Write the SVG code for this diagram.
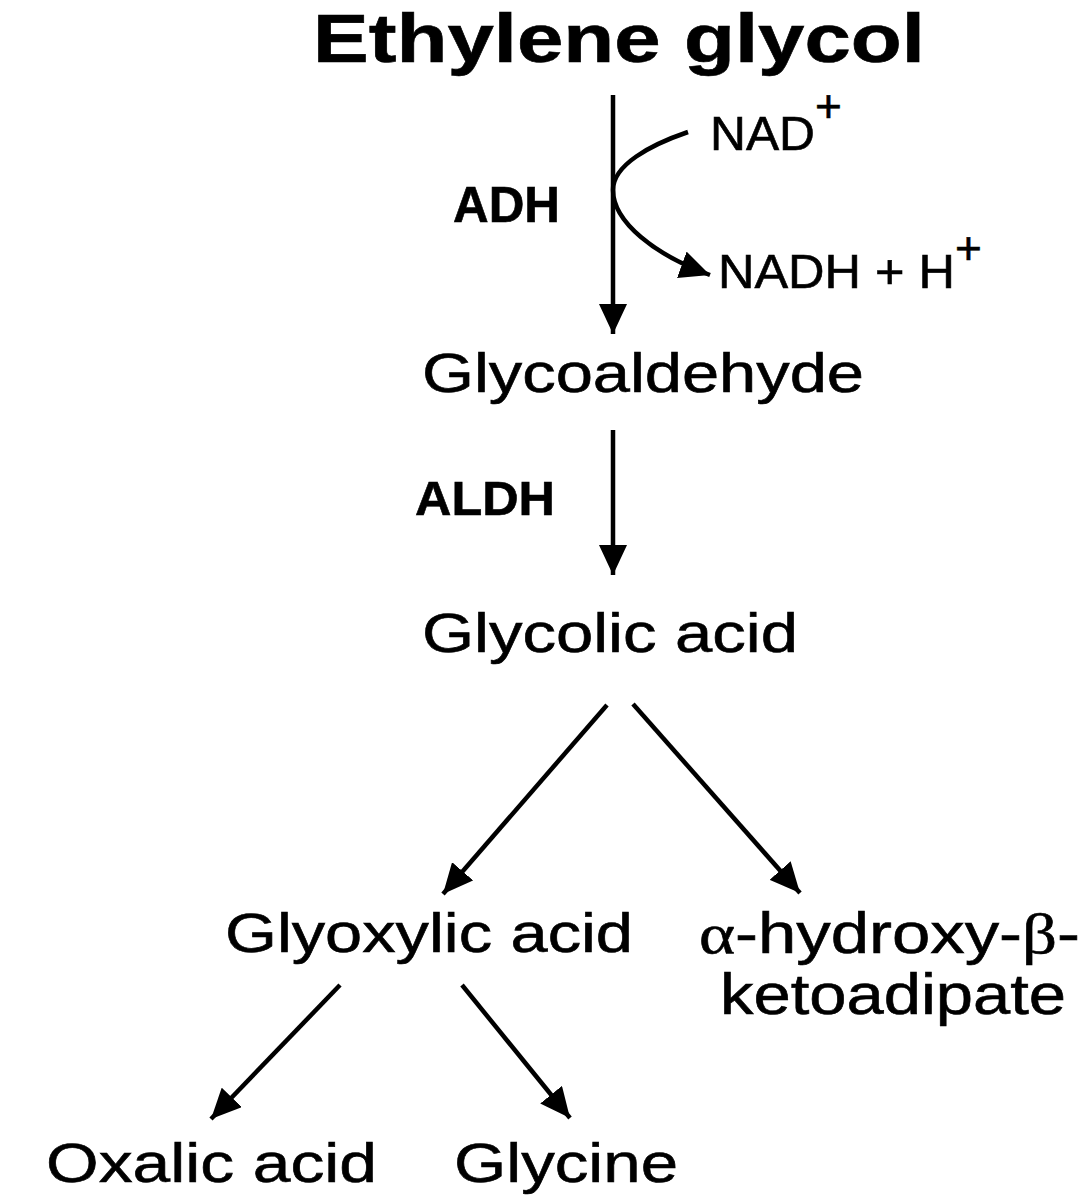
<svg xmlns="http://www.w3.org/2000/svg" width="1080" height="1198" viewBox="0 0 1080 1198">
<style>
  .lbl { font-family: "Liberation Sans", Arial, sans-serif; fill: #000; stroke: #000; stroke-width: 0.6; }
  .bold { font-weight: bold; }
  .conn { stroke: #000; stroke-width: 4.5; fill: none; }
  .greek { font-family: "Liberation Serif", "Times New Roman", serif; }
</style>
<defs>
  <marker id="ah" markerUnits="userSpaceOnUse" markerWidth="32" markerHeight="28" viewBox="0 0 32 28" refX="30" refY="14" orient="auto">
    <path d="M0,0 L30,14 L0,28 Z" fill="#000"/>
  </marker>
</defs>
<rect width="1080" height="1198" fill="#fff"/>

<g id="connectors">
  <line class="conn" x1="613" y1="95" x2="613" y2="334" marker-end="url(#ah)"/>
  <path class="conn" d="M688,132 C650,145 613,165 613,190 C613,222 655,255 710,275" marker-end="url(#ah)"/>
  <line class="conn" x1="613" y1="430" x2="613" y2="575" marker-end="url(#ah)"/>
  <line class="conn" x1="607" y1="705" x2="443" y2="894" marker-end="url(#ah)"/>
  <line class="conn" x1="633" y1="704" x2="800" y2="893" marker-end="url(#ah)"/>
  <line class="conn" x1="340" y1="985" x2="211" y2="1119" marker-end="url(#ah)"/>
  <line class="conn" x1="462" y1="985" x2="570" y2="1118" marker-end="url(#ah)"/>
</g>

<g id="ethylene-glycol">
  <text class="lbl bold" x="313" y="62" font-size="68" textLength="612" lengthAdjust="spacingAndGlyphs">Ethylene glycol</text>
</g>
<g id="adh">
  <text class="lbl bold" x="453" y="222" font-size="50" textLength="107" lengthAdjust="spacingAndGlyphs">ADH</text>
</g>
<g id="nad">
  <text class="lbl" x="710" y="150" font-size="48" textLength="105" lengthAdjust="spacingAndGlyphs">NAD</text>
  <text class="lbl" x="815" y="122" font-size="46">+</text>
</g>
<g id="nadh">
  <text class="lbl" x="718" y="288" font-size="48" textLength="237" lengthAdjust="spacingAndGlyphs">NADH + H</text>
  <text class="lbl" x="955" y="264" font-size="46">+</text>
</g>
<g id="glycoaldehyde">
  <text class="lbl" x="422" y="392" font-size="56" textLength="442" lengthAdjust="spacingAndGlyphs">Glycoaldehyde</text>
</g>
<g id="aldh">
  <text class="lbl bold" x="415" y="515" font-size="49" textLength="140" lengthAdjust="spacingAndGlyphs">ALDH</text>
</g>
<g id="glycolic-acid">
  <text class="lbl" x="422" y="652" font-size="56" textLength="376" lengthAdjust="spacingAndGlyphs">Glycolic acid</text>
</g>
<g id="glyoxylic-acid">
  <text class="lbl" x="225" y="952" font-size="56" textLength="408" lengthAdjust="spacingAndGlyphs">Glyoxylic acid</text>
</g>
<g id="hydroxy-ketoadipate">
  <text class="lbl" x="699" y="953" font-size="58" textLength="381" lengthAdjust="spacingAndGlyphs"><tspan class="greek">α</tspan>-hydroxy-<tspan class="greek">β</tspan>-</text>
  <text class="lbl" x="720" y="1014" font-size="58" textLength="346" lengthAdjust="spacingAndGlyphs">ketoadipate</text>
</g>
<g id="oxalic-acid">
  <text class="lbl" x="46" y="1182" font-size="56" textLength="331" lengthAdjust="spacingAndGlyphs">Oxalic acid</text>
</g>
<g id="glycine">
  <text class="lbl" x="454" y="1182" font-size="56" textLength="224" lengthAdjust="spacingAndGlyphs">Glycine</text>
</g>
</svg>
